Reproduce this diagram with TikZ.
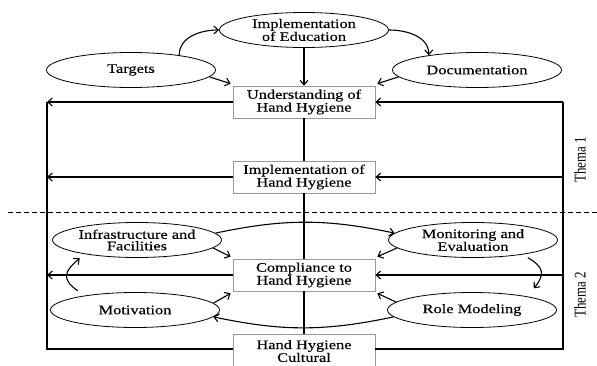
\documentclass[tikz,border=0pt]{standalone}
\usepackage{fontspec}
\setmainfont[FakeStretch=1.26,FakeBold=0.3]{Liberation Serif}
\newfontfamily\themafont[FakeStretch=0.79]{Liberation Serif}
\usetikzlibrary{
    arrows.meta,
    shapes
}

\begin{document}
\begin{tikzpicture}[x=1pt, y=1pt,
    oval/.style={draw, ellipse, line width=0.8pt, minimum width=169pt, minimum height=35pt, inner sep=0pt, align=center, font=\fontsize{13}{11.5}\selectfont},
    hhbox/.style={draw=black!40, fill=white, line width=0.7pt, minimum width=142pt, minimum height=32pt, inner sep=0pt, align=center, font=\fontsize{13}{11.5}\selectfont},
    arr/.style={-{Straight Barb[length=4.5pt, width=8pt]}, line width=1.1pt},
    conn/.style={line width=1.1pt}]
            \useasboundingbox (0,0) rectangle (597,365);
            \clip (0,0) rectangle (597,365);

            % thema 1
            \node[oval] (edu) at (304,335) {Implementation\\of Education};
            \node[oval] (targets) at (131,295) {Targets};
            \node[oval] (docu) at (477,295) {Documentation};
            \node[hhbox] (understand) at (304,263) {Understanding of\\Hand Hygiene};
            \node[hhbox] (implement) at (304,188) {Implementation of\\Hand Hygiene};

            % thema 2
            \node[oval] (infra) at (137,125) {Infrastructure and\\Facilities};
            \node[oval] (monitor) at (473,125) {Monitoring and\\Evaluation};
            \node[hhbox] (comply) at (304,90) {Compliance to\\Hand Hygiene};
            \node[oval] (motiv) at (135,55) {Motivation};
            \node[oval] (role) at (472,55) {Role Modeling};
            \node[hhbox, minimum height=34pt] (culture) at (304,14) {Hand Hygiene\\Cultural};

            \node[rotate=90, font=\themafont\fontsize{16.4}{18}\selectfont] (thema1) at (580,205) {Thema 1};
            \node[rotate=90, font=\themafont\fontsize{16.4}{18}\selectfont] (thema2) at (580,70) {Thema 2};

            \coordinate (lt) at (47,263);
            \coordinate (lb) at (47,16);
            \coordinate (rt) at (563,263);
            \coordinate (rb) at (563,16);

            \draw[dashed, dash pattern=on 5pt off 3pt, line width=0.9pt] (8,153) -- (597,153);

            % central line
            \draw[arr] (edu) -- (understand);
            \draw[conn] (understand) -- (implement);
            \draw[conn] (implement) -- (comply);
            \draw[conn] (comply) -- (culture);

            % feedback lines
            \draw[conn] (culture.west |- lb) -- (lb) -- (lt);
            \draw[arr] (understand.west) -- (lt);
            \draw[arr] (implement.west) -- (implement.west -| lt);
            \draw[arr] (comply.west) -- (comply.west -| lt);

            \draw[conn] (culture.east |- rb) -- (rb) -- (rt);
            \draw[arr] (rt) -- (understand.east);
            \draw[arr] (implement.east -| rt) -- (implement.east);
            \draw[arr] (comply.east -| rt) -- (comply.east);

            % thema 1 arrows
            \draw[arr] (targets.17) to[out=90, in=180] (edu.west);
            \draw[arr] (targets.-5) -- ([shift={(-2,2)}]understand.north west);
            \draw[arr] (edu.east) to[out=0, in=90] (docu.163);
            \draw[arr] (docu.185) -- ([shift={(2,2)}]understand.north east);

            % thema 2 arrows
            \draw[arr] (infra.-6) -- ([shift={(-2,2)}]comply.north west);
            \draw[arr] (infra.5) to[bend left=12] (monitor.175);
            \draw[arr] (monitor.186) -- ([shift={(2,2)}]comply.north east);
            \draw[arr] ([shift={(0,-4)}]monitor.-14) to[out=-30, in=50, looseness=1.5] ([shift={(2,9)}]role.12);
            \draw[arr] (role.174) -- ([shift={(2,-2)}]comply.south east);
            \draw[arr] (role.185) to[bend left=12] (motiv.-5);
            \draw[arr] (motiv.5) -- ([shift={(-2,-2)}]comply.south west);
            \draw[arr] ([shift={(0,6)}]motiv.167) to[out=145, in=-140, looseness=1.6] ([shift={(0,-5)}]infra.193);
\end{tikzpicture}
\end{document}
